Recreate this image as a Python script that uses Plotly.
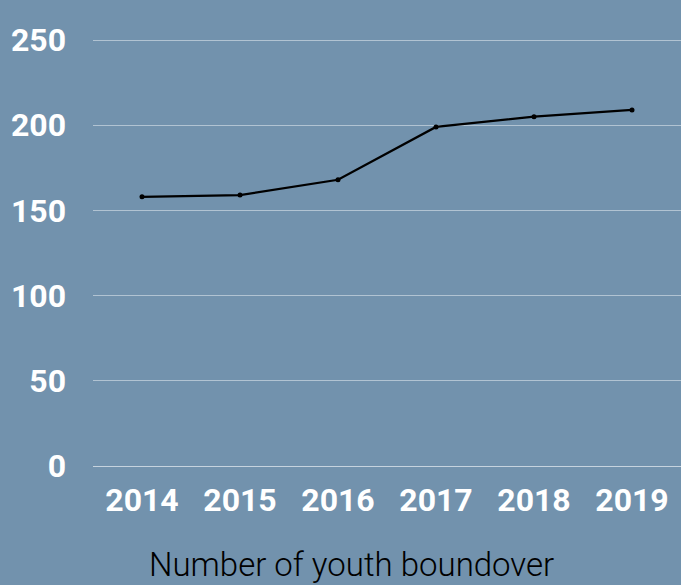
import plotly.graph_objects as go

years = ["2014", "2015", "2016", "2017", "2018", "2019"]
youth_boundover = [158, 159, 168, 199, 205, 209]
y_ticks = [0, 50, 100, 150, 200, 250]

BG = "#7292ad"
fig = go.Figure(go.Scatter(
    x=years, y=youth_boundover, mode="lines+markers",
    line=dict(color="black", width=2.2),
    marker=dict(color="black", size=5),
))

tickfont = dict(family="Roboto, sans-serif", size=32, color="white", weight="bold")
fig.update_layout(
    width=681, height=585,
    paper_bgcolor=BG, plot_bgcolor=BG,
    margin=dict(l=93, r=0, t=0, b=119),
    showlegend=False,
    xaxis=dict(type="category", range=[-0.5, 5.5], showgrid=False, zeroline=False,
               showline=False, ticks="", tickfont=tickfont,
               ticklabelstandoff=12),
    yaxis=dict(range=[0, 273.5], tickvals=y_ticks, showgrid=True,
               gridcolor="rgba(255,255,255,0.45)", gridwidth=1,
               zeroline=True, zerolinecolor="rgba(255,255,255,0.6)", zerolinewidth=1,
               showline=False, ticks="", tickfont=tickfont,
               ticklabelstandoff=26),
    annotations=[dict(text="Number of youth boundover", xref="paper", yref="paper",
                      x=0.439, y=0, yshift=-98, xanchor="center", yanchor="middle",
                      showarrow=False,
                      font=dict(family="Roboto, sans-serif", weight=300,
                                size=33, color="black"))],
)
fig.write_html("out.html", config={"displayModeBar": False},
               post_script="document.body.style.margin='0';")
